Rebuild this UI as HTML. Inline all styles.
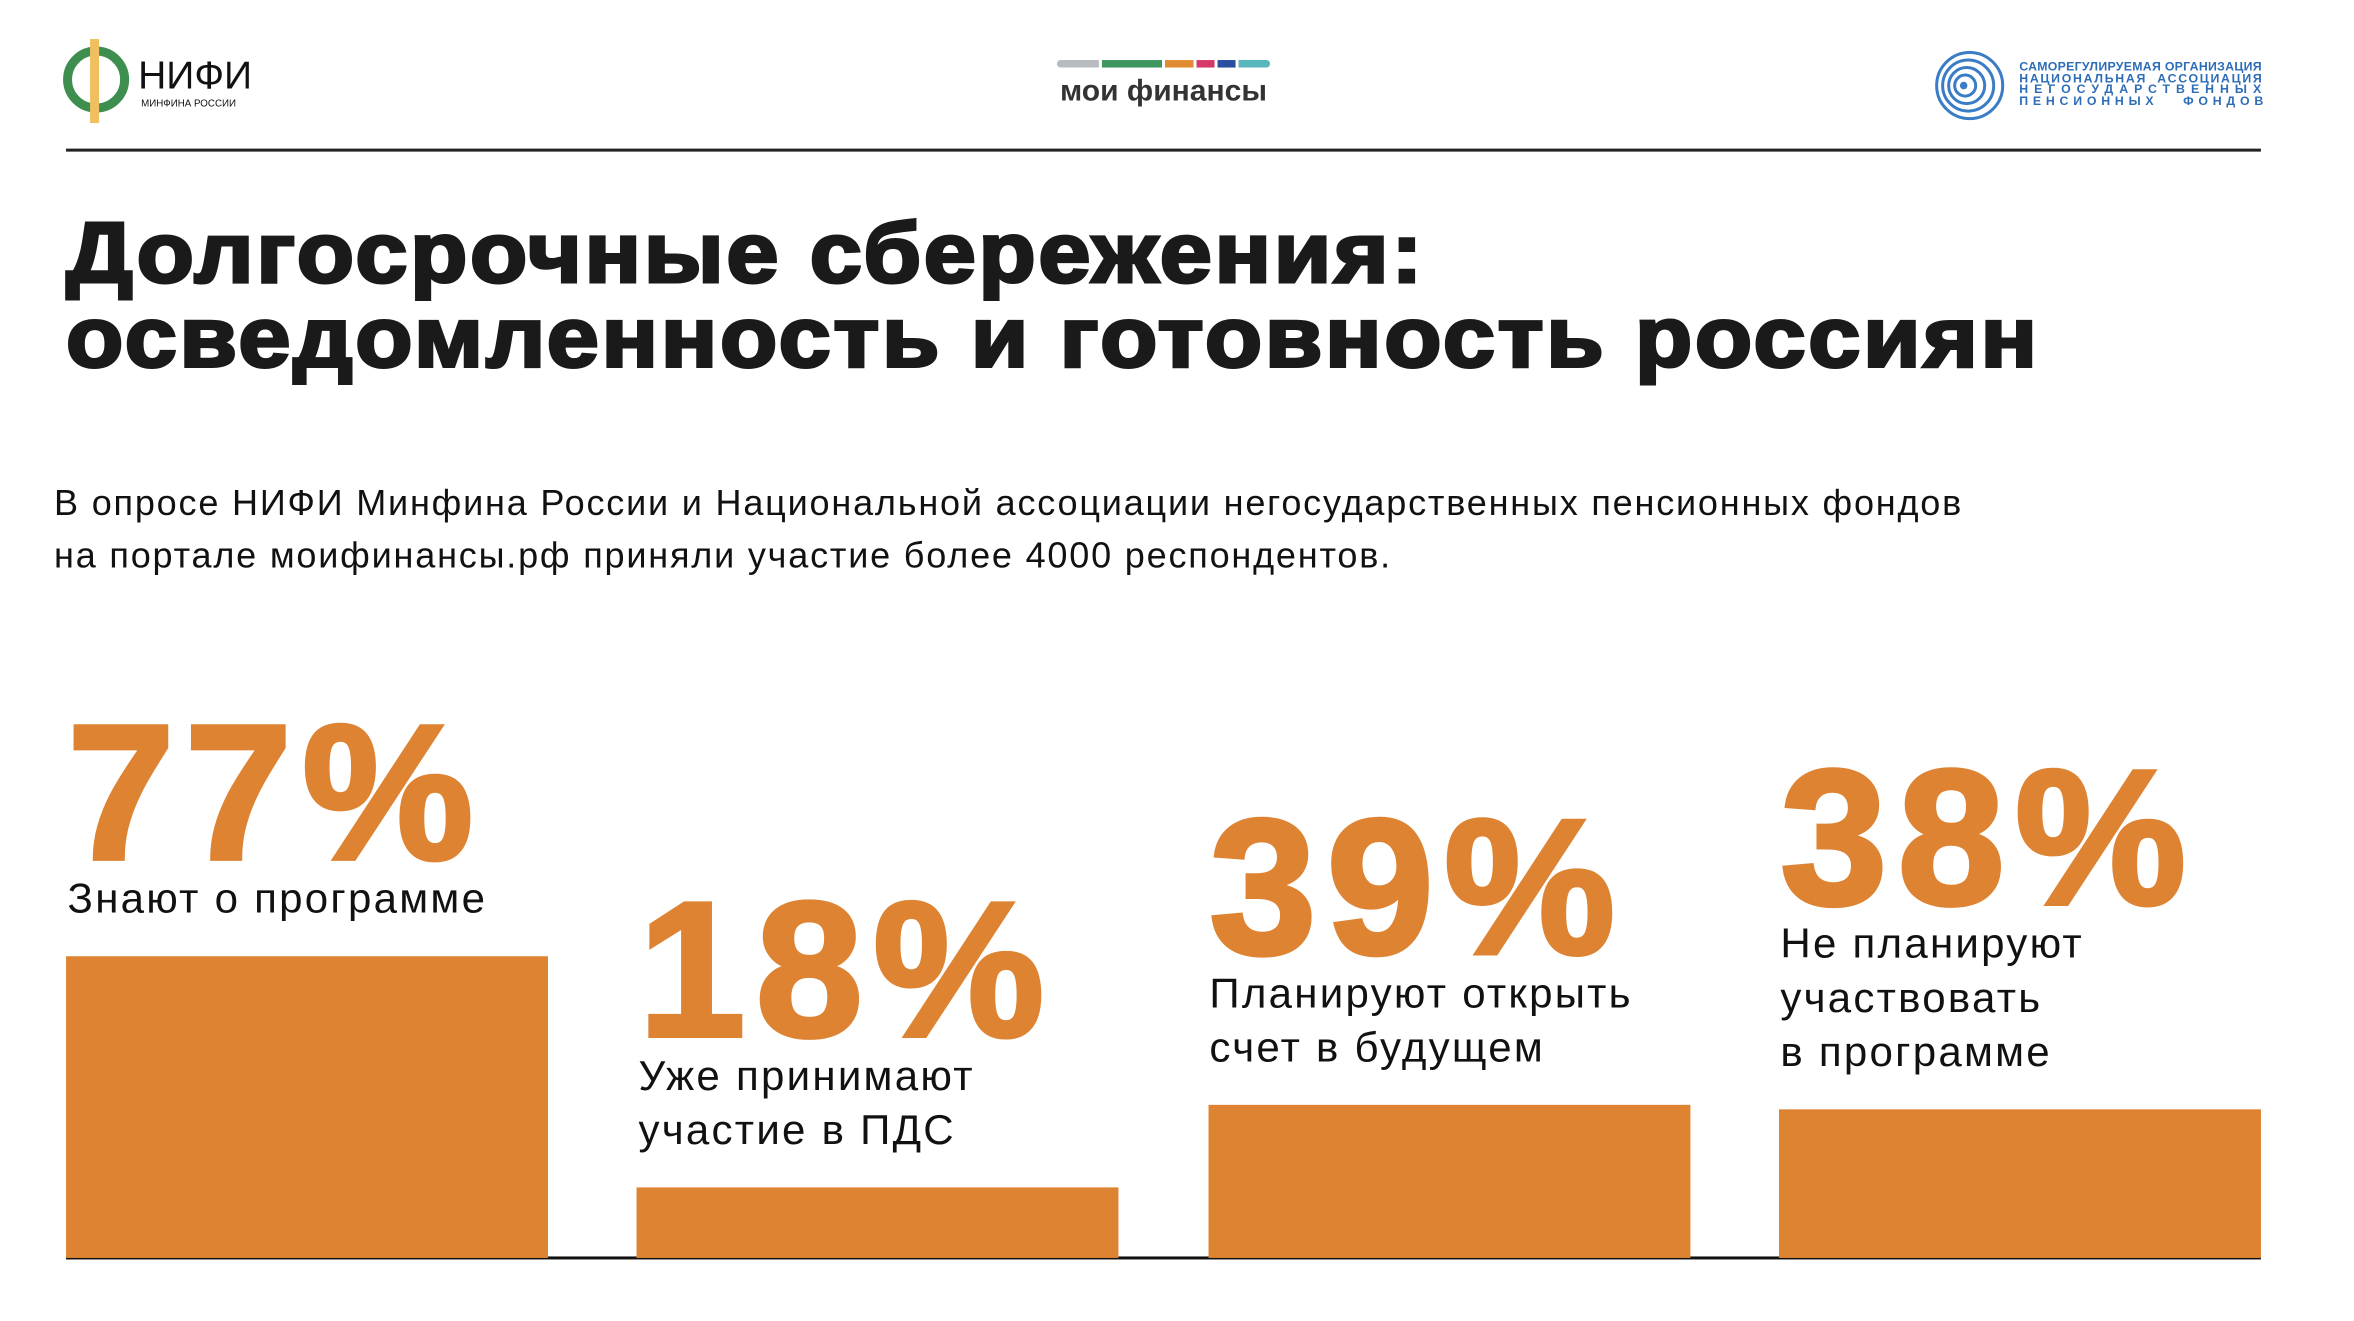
<!DOCTYPE html>
<html><head><meta charset="utf-8">
<style>
html,body{margin:0;padding:0;background:#fff;}
body{width:2354px;height:1321px;overflow:hidden;position:relative;}
#stage{position:absolute;left:0;top:0;width:1568px;height:880px;transform-origin:0 0;transform:scale(1.50128,1.50114);font-family:"Liberation Sans",sans-serif;}
.abs{position:absolute;}
.title{left:44px;top:141px;font-size:57px;font-weight:bold;line-height:56px;letter-spacing:1.6px;color:#1a1a1a;white-space:nowrap;-webkit-text-stroke:2px #1a1a1a;transform-origin:0 0;transform:scaleX(1.095);}
.para{left:36px;top:318px;font-size:24px;line-height:35px;color:#111;white-space:nowrap;letter-spacing:1.2px;}
.grp{position:absolute;color:#111;}
.num{font-size:128px;font-weight:bold;line-height:104px;color:#DD8332;letter-spacing:7px;-webkit-text-stroke:3px #DD8332;white-space:nowrap;}
.lbl{font-size:28px;line-height:36px;white-space:nowrap;letter-spacing:1.5px;}
.org{font-size:8.2px;font-weight:bold;color:#2d6db7;line-height:7.6px;white-space:pre;}
</style></head>
<body>
<div id="stage">
  <svg class="abs" style="left:40px;top:26px" width="52" height="58">
    <circle cx="24" cy="27" r="19" fill="none" stroke="#3e8f4f" stroke-width="6"/>
    <rect x="20" y="0" width="6" height="56" fill="#f0c060"/>
  </svg>
  <div class="abs" style="left:92px;top:35px;font-size:26px;color:#111;letter-spacing:0px">НИФИ</div>
  <div class="abs" style="left:94px;top:66px;font-size:6.5px;color:#111">МИНФИНА РОССИИ</div>

  <div class="abs" style="left:704px;top:40px;width:28px;height:5px;background:#b9bcbf;border-radius:3px 0 0 3px"></div>
  <div class="abs" style="left:734px;top:40px;width:40px;height:5px;background:#3e9660"></div>
  <div class="abs" style="left:776px;top:40px;width:19px;height:5px;background:#e08a32"></div>
  <div class="abs" style="left:797px;top:40px;width:12px;height:5px;background:#d6386a"></div>
  <div class="abs" style="left:811px;top:40px;width:12px;height:5px;background:#2a4fa0"></div>
  <div class="abs" style="left:825px;top:40px;width:21px;height:5px;background:#58b6bd;border-radius:0 3px 3px 0"></div>
  <div class="abs" style="left:704px;top:50px;width:142px;text-align:center;font-size:20px;font-weight:bold;color:#333">мои финансы</div>

  <svg class="abs" style="left:1288px;top:33px" width="48" height="48">
    <circle cx="24" cy="24" r="22" fill="none" stroke="#3a7cc5" stroke-width="2"/>
    <circle cx="23" cy="24" r="17" fill="none" stroke="#3a7cc5" stroke-width="2"/>
    <circle cx="22" cy="24" r="12" fill="none" stroke="#3a7cc5" stroke-width="2"/>
    <circle cx="21" cy="24" r="7" fill="none" stroke="#3a7cc5" stroke-width="2"/>
    <circle cx="20" cy="24" r="2.5" fill="#3a7cc5"/>
  </svg>
  <div class="abs org" style="left:1345px;top:41px"><span style="letter-spacing:0.2px">САМОРЕГУЛИРУЕМАЯ ОРГАНИЗАЦИЯ</span>
<span style="letter-spacing:1.15px">НАЦИОНАЛЬНАЯ  АССОЦИАЦИЯ</span>
<span style="letter-spacing:4px">НЕГОСУДАРСТВЕННЫХ</span>
<span style="letter-spacing:3.2px">ПЕНСИОННЫХ   ФОНДОВ</span></div>

  <div class="abs" style="left:44px;top:99px;width:1462px;height:1.5px;background:#222"></div>

  <div class="abs title">Долгосрочные сбережения:<br>осведомленность и готовность россиян</div>

  <div class="abs para">В опросе НИФИ Минфина России и Национальной ассоциации негосударственных пенсионных фондов<br>на портале моифинансы.рф приняли участие более 4000 респондентов.</div>

  <div class="abs" style="left:44px;top:837px;width:1462px;height:2px;background:#111"></div>
</div>
<script>
const categories = ["Знают о программе", "Уже принимают|участие в ПДС", "Планируют открыть|счет в будущем", "Не планируют|участвовать|в программе"];
const values = [77, 18, 39, 38];
const valueLabels = ["77%", "18%", "39%", "38%"];

const stage = document.getElementById('stage');
const baseY = 838, pxPerPct = 2.61, barW = 321, x0 = 44, step = 380.3;
function yScale(v){ return v * pxPerPct; }
values.forEach((v, i) => {
  const x = x0 + i * step;
  const h = yScale(v);
  const top = baseY - h;
  const bar = document.createElement('div');
  
  
  bar.style.cssText = `position:absolute;left:${x}px;top:${top}px;width:${barW}px;height:${h}px;background:#DD8332;`;
  stage.appendChild(bar);

  const g = document.createElement('div');
  g.className = 'grp';
  
  
  g.style.left = (x + 1) + 'px';
  g.style.bottom = (880 - top + 20) + 'px';
  const n = document.createElement('div');
  n.className = 'num';
  
  
  n.textContent = valueLabels[i];
  g.appendChild(n);
  const l = document.createElement('div');
  l.className = 'lbl';
  
  
  l.innerHTML = categories[i].split('|').join('<br>');
  g.appendChild(l);
  stage.appendChild(g);
});
</script>
</body></html>
